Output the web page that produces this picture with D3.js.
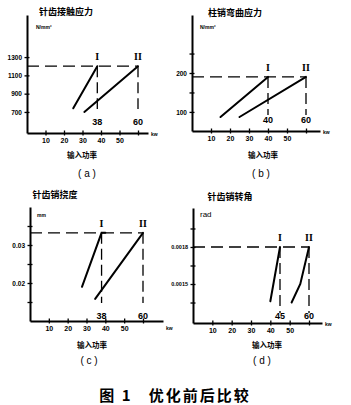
<!DOCTYPE html>
<html><head><meta charset="utf-8">
<script src="https://cdn.jsdelivr.net/npm/d3@7"></script>
<style>body{margin:0;background:#fff}</style>
</head><body>
<svg id="c" width="351" height="405"></svg>
<script>
// ---------- data ----------
const xTickValues = [10, 20, 30, 40, 50, 60];
const xTickLabels = ["10", "20", "30", "40", "50", ""];

// (a) 针齿接触应力
const aYTicks = [700, 900, 1100, 1300];
const aYLabels = ["700", "900", "1100", "1300"];
const aLineI = [[25, 740], [38, 1200]];
const aLineII = [[31, 700], [60, 1200]];
const aLimit = 1200;
const aMarks = [38, 60];
const aMarkLabels = ["38", "60"];

// (b) 柱销弯曲应力
const bYTicks = [100, 150, 200, 250];
const bYLabels = ["100", "", "200", ""];
const bLineI = [[15, 87], [40, 190]];
const bLineII = [[25, 87], [60, 190]];
const bLimit = 190;
const bMarks = [40, 60];
const bMarkLabels = ["40", "60"];

// (c) 针齿销挠度
const cYTicks = [0.015, 0.02, 0.025, 0.03, 0.035];
const cYLabels = ["", "0.02", "", "0.03", ""];
const cLineI = [[27.6, 0.019], [38, 0.0332], [40, 0.0332]];
const cLineII = [[34.6, 0.0158], [60, 0.0332]];
const cLimit = 0.0332;
const cMarks = [38, 60];
const cMarkLabels = ["38", "60"];

// (d) 针齿销转角
const dYTicks = [0.00135, 0.0015, 0.00165, 0.0018, 0.00195];
const dYLabels = ["", "0.0015", "", "0.0018", ""];
const dLineI = [[40, 0.00136], [45, 0.0018]];
const dLineII = [[51, 0.00135], [55.5, 0.0015], [60, 0.0018]];
const dLimit = 0.0018;
const dMarks = [45, 60];
const dMarkLabels = ["45", "60"];

const romanLabels = ["I", "II"];

// ---------- drawing ----------
const svg = d3.select("#c");
const CJK = "'Noto Sans CJK SC', sans-serif";
const NUM = "'Liberation Sans', Arial, sans-serif";

function panel(o) {
  const g = svg.append("g");
  const x = d3.scaleLinear().domain([0, 60]).range([o.x0, o.x60]);
  const y = d3.scaleLinear().domain(o.yDomain).range([o.yBottom, o.yTop]);
  const xAxisScale = x.copy().domain([0, x.invert(o.xEnd)]).range([o.x0, o.xEnd]);

  // x axis
  const xa = g.append("g").attr("transform", `translate(0,${o.yBottom})`)
    .call(d3.axisBottom(xAxisScale).tickValues(xTickValues)
      .tickFormat((d, i) => xTickLabels[i]).tickSizeOuter(0).tickSizeInner(3).tickPadding(2));
  xa.select(".domain").attr("stroke", "#000").attr("stroke-width", 2);
  xa.selectAll(".tick line").attr("y1", -2.5).attr("y2", 2.5).attr("stroke-width", 1.3);
  xa.selectAll(".tick text").attr("font-family", NUM).attr("font-size", 7).attr("font-weight", "bold").attr("fill", "#000");

  // y axis
  const ya = g.append("g").attr("transform", `translate(${o.x0},0)`)
    .call(d3.axisLeft(y).tickValues(o.yTicks)
      .tickFormat((d, i) => o.yLabels[i]).tickSizeOuter(0).tickSizeInner(3).tickPadding(2));
  ya.select(".domain").attr("stroke", "#000").attr("stroke-width", 2);
  ya.selectAll(".tick line").attr("x1", -2.5).attr("x2", 2.5).attr("stroke-width", 1.3);
  ya.selectAll(".tick text").attr("font-family", NUM).attr("font-size", o.yFont || 6.5).attr("font-weight", "bold").attr("fill", "#000");

  // dashed limit lines
  const yl = y(o.limit);
  g.append("line").attr("x1", o.x0).attr("x2", x(60)).attr("y1", yl).attr("y2", yl)
    .attr("stroke", "#000").attr("stroke-width", 1.3).attr("stroke-dasharray", "12,6");
  o.marks.forEach((m, i) => {
    g.append("line").attr("x1", x(m)).attr("x2", x(m)).attr("y1", yl).attr("y2", o.yBottom - o.vGap)
      .attr("stroke", "#000").attr("stroke-width", 1.3).attr("stroke-dasharray", "11,5");
    g.append("text").attr("x", x(m)).attr("y", yl - 6).attr("text-anchor", "middle")
      .attr("font-family", "'Liberation Serif', serif").attr("font-weight", "bold").attr("font-size", 10)
      .text(romanLabels[i]);
    g.append("text").attr("x", x(m)).attr("y", o.yBottom - o.numGap).attr("text-anchor", "middle")
      .attr("font-family", NUM).attr("font-weight", "bold").attr("font-size", 9)
      .text(o.markLabels[i]);
  });

  // data lines
  const line = d3.line().x(d => x(d[0])).y(d => y(d[1]));
  [o.lineI, o.lineII].forEach(L => {
    g.append("path").attr("d", line(L)).attr("fill", "none").attr("stroke", "#000")
      .attr("stroke-width", 2).attr("stroke-linecap", "round");
  });

  // texts
  g.append("text").attr("x", o.titleX).attr("y", o.titleY).attr("text-anchor", "middle")
    .attr("font-family", CJK).attr("font-weight", "bold").attr("font-size", 9).text(o.title);
  g.append("text").attr("x", o.unitX).attr("y", o.unitY)
    .attr("font-family", NUM).attr("font-weight", o.unitBold ? "bold" : "normal")
    .attr("font-size", o.unitSize).text(o.unit);
  g.append("text").attr("x", o.xEnd + 3).attr("y", o.yBottom + o.kwDy)
    .attr("font-family", NUM).attr("font-size", 5).attr("font-weight", "bold").text("kw");
  g.append("text").attr("x", o.capX).attr("y", o.capY).attr("text-anchor", "middle")
    .attr("font-family", CJK).attr("font-weight", "bold").attr("font-size", 7.5).text("输入功率");
  g.append("text").attr("x", o.lblX).attr("y", o.lblY).attr("text-anchor", "middle")
    .attr("font-family", NUM).attr("font-size", 10).attr("xml:space", "preserve").text(o.lbl);
}

panel({x0: 27, x60: 138, xEnd: 148, yBottom: 133, yTop: 15, yDomain: [470, 1760],
  yTicks: aYTicks, yLabels: aYLabels, limit: aLimit, marks: aMarks, markLabels: aMarkLabels,
  lineI: aLineI, lineII: aLineII, vGap: 24, numGap: 8,
  title: "针齿接触应力", titleX: 66, titleY: 15,
  unit: "N/mm²", unitX: 36, unitY: 29, unitSize: 5, unitBold: true, kwDy: 3,
  capX: 82, capY: 158, lbl: "( a )", lblX: 87, lblY: 177});

panel({x0: 192, x60: 306, xEnd: 320, yBottom: 131, yTop: 15, yDomain: [51, 349],
  yTicks: bYTicks, yLabels: bYLabels, limit: bLimit, marks: bMarks, markLabels: bMarkLabels,
  lineI: bLineI, lineII: bLineII, vGap: 16, numGap: 8,
  title: "柱销弯曲应力", titleX: 235, titleY: 16,
  unit: "N/mm²", unitX: 200, unitY: 29, unitSize: 5, unitBold: true, kwDy: 3,
  capX: 263, capY: 158, lbl: "( b )", lblX: 261, lblY: 177});

panel({x0: 30, x60: 143, xEnd: 163, yBottom: 321, yTop: 207, yDomain: [0.01, 0.04],
  yTicks: cYTicks, yLabels: cYLabels, limit: cLimit, marks: cMarks, markLabels: cMarkLabels,
  lineI: cLineI, lineII: cLineII, vGap: 18, numGap: 2,
  title: "针齿销挠度", titleX: 55, titleY: 198,
  unit: "mm", unitX: 37, unitY: 217, unitSize: 5, unitBold: true, kwDy: 9,
  capX: 92, capY: 348, lbl: "( c )", lblX: 89, lblY: 364});

panel({x0: 193, x60: 309, xEnd: 322, yBottom: 323, yTop: 208, yDomain: [0.001184, 0.002116],
  yTicks: dYTicks, yLabels: dYLabels, limit: dLimit, marks: dMarks, markLabels: dMarkLabels,
  lineI: dLineI, lineII: dLineII, vGap: 10, numGap: 4, yFont: 5.5,
  title: "针齿销转角", titleX: 230, titleY: 200,
  unit: "rad", unitX: 200, unitY: 217, unitSize: 8, unitBold: false, kwDy: 3,
  capX: 267, capY: 348, lbl: "( d )", lblX: 262, lblY: 364});

svg.append("text").attr("x", 175).attr("y", 401).attr("text-anchor", "middle")
  .attr("font-family", CJK).attr("font-weight", "bold").attr("font-size", 15)
  .attr("letter-spacing", 2).attr("xml:space", "preserve").text("图 1   优化前后比较");
</script>
</body></html>
